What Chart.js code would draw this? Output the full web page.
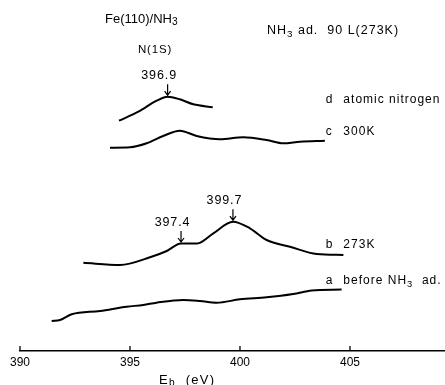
<!DOCTYPE html>
<html><head><meta charset="utf-8">
<script src="https://cdn.jsdelivr.net/npm/chart.js@4/dist/chart.umd.min.js"></script>
<style>html,body{margin:0;padding:0;background:#fff}#wrap{width:445px;height:385px}</style>
</head><body><div id="wrap"><canvas id="c" width="445" height="385"></canvas></div>
<script>
// Binding energy (eV) and intensity (arbitrary units, offset spectra)
const energyA = [391.44,391.82,392.35,393.64,394.85,395.60,396.21,397.42,398.18,398.94,400.00,401.21,402.42,403.26,404.62];
const intensityA = [30,31,36.7,40,44.3,46,48.3,51,50,48.3,51.7,53.7,57,60.5,61.5];
const energyB = [392.88,394.55,395.91,396.67,397.32,398.05,398.79,399.68,400.45,401.21,402.27,403.49,404.70];
const intensityB = [88.3,86,93.7,100,107.5,107.5,117.7,129.3,122.7,111,104.3,97,96];
const energyC = [394.09,395.00,395.76,396.51,397.27,398.03,399.09,400.15,401.21,401.97,402.73,403.86];
const intensityC = [203.3,203.7,207.7,215,220.3,215,211.7,213.7,211,207.7,209.3,210.3];
const energyD = [394.50,395.38,396.21,396.71,397.27,397.88,398.76];
const intensityD = [230.3,239.3,250.3,254.3,251.7,246.7,243.7];

const tickValues = [390,395,400,405];
const tickLabels = ['390','395','400','405'];

const seriesLetters = ['a','b','c','d'];
const seriesNames = [[['before NH',0],['3',1],['  ad.',0]], [['273K',0]], [['300K',0]], [['atomic nitrogen',0]]];
const seriesLabelY = [70,106,219.5,251];

const peakTexts = ['396.9','397.4','399.7'];
const peakEnergies = [396.71,397.32,399.68];
const peakTips = [254.3,107.5,129.3];

function pts(xs, ys){ return xs.map((x,i)=>({x:x,y:ys[i]})); }

const FONT = '"Liberation Sans", Arial, sans-serif';
function drawRich(ctx, x, y, parts, size, align, spacing){
  ctx.save();
  ctx.fillStyle = '#000';
  ctx.textBaseline = 'middle';
  ctx.textAlign = 'left';
  ctx.letterSpacing = (spacing||0)+'px';
  let total = 0;
  const widths = parts.map(p=>{ ctx.font = (p[1]? size*0.78 : size)+'px '+FONT; const w = ctx.measureText(p[0]).width; total += w; return w; });
  let cx = align==='center' ? x-total/2 : (align==='right' ? x-total : x);
  parts.forEach((p,i)=>{ ctx.font = (p[1]? size*0.78 : size)+'px '+FONT; ctx.fillText(p[0], cx, p[1]? y+size*0.28 : y); cx += widths[i]; });
  ctx.restore();
}

const annot = {
  id:'annot',
  afterDraw(chart){
    const ctx = chart.ctx, xs = chart.scales.x, ys = chart.scales.y;
    const bottom = chart.chartArea.bottom;
    // tick marks (upward)
    ctx.save();
    ctx.strokeStyle = '#000'; ctx.lineWidth = 1.3;
    tickValues.forEach(v=>{ const px = xs.getPixelForValue(v); ctx.beginPath(); ctx.moveTo(px, bottom); ctx.lineTo(px, bottom-5); ctx.stroke(); });
    ctx.restore();
    // headers
    drawRich(ctx, 105, 19, [['Fe(110)/NH',0],['3',1]], 13, 'left', 0);
    drawRich(ctx, 267, 31, [['NH',0],['3',1],[' ad.  90 L(273K)',0]], 12.5, 'left', 1.0);
    drawRich(ctx, 155, 50, [['N(1S)',0]], 11.5, 'center', 0.8);
    drawRich(ctx, xs.getPixelForValue(397.6), 380, [['E',0],['b',1],['  (eV)',0]], 13, 'center', 1.3);
    // series labels
    seriesLetters.forEach((l,i)=>{
      const y = ys.getPixelForValue(seriesLabelY[i]);
      drawRich(ctx, xs.getPixelForValue(403.9), y, [[l,0]], 12, 'left', 0);
      drawRich(ctx, xs.getPixelForValue(404.7), y, seriesNames[i], 12, 'left', 1.0);
    });
    // peak arrows
    ctx.save();
    ctx.strokeStyle = '#000'; ctx.lineWidth = 1.2;
    peakTexts.forEach((t,i)=>{
      const px = xs.getPixelForValue(peakEnergies[i]);
      const tip = ys.getPixelForValue(peakTips[i]) - 1.5;
      const top = tip - 11;
      ctx.beginPath(); ctx.moveTo(px, top); ctx.lineTo(px, tip);
      ctx.moveTo(px-3, tip-4); ctx.lineTo(px, tip); ctx.lineTo(px+3, tip-4); ctx.stroke();
      drawRich(ctx, px-8.5, top-8.5, [[t,0]], 12.5, 'center', 0.9);
    });
    ctx.restore();
  }
};

const ds = (xs, ysv) => ({ data: pts(xs, ysv), borderColor:'#000', borderWidth:2, pointRadius:0, fill:false, cubicInterpolationMode:'monotone' });

new Chart(document.getElementById('c'), {
  type:'line',
  data:{ datasets:[ ds(energyA,intensityA), ds(energyB,intensityB), ds(energyC,intensityC), ds(energyD,intensityD) ] },
  options:{
    responsive:false, animation:false, events:[],
    layout:{ padding:{ left:20, right:0, top:0, bottom:0 } },
    plugins:{ legend:{display:false}, tooltip:{enabled:false} },
    scales:{
      x:{ type:'linear', min:390, max:409.32,
        grid:{ display:false, drawTicks:false },
        border:{ display:true, color:'#000', width:1.6 },
        afterBuildTicks(s){ s.ticks = tickValues.map(v=>({value:v})); },
        afterFit(s){ s.height = 34; },
        ticks:{ color:'#000', padding:4, maxRotation:0, autoSkip:false,
          font:{ family:'Liberation Sans', size:12 },
          callback(v){ const k = tickValues.indexOf(v); return k>=0 ? tickLabels[k] : ''; } }
      },
      y:{ display:false, min:0, max:351 }
    }
  },
  plugins:[annot]
});
</script>
</body></html>
